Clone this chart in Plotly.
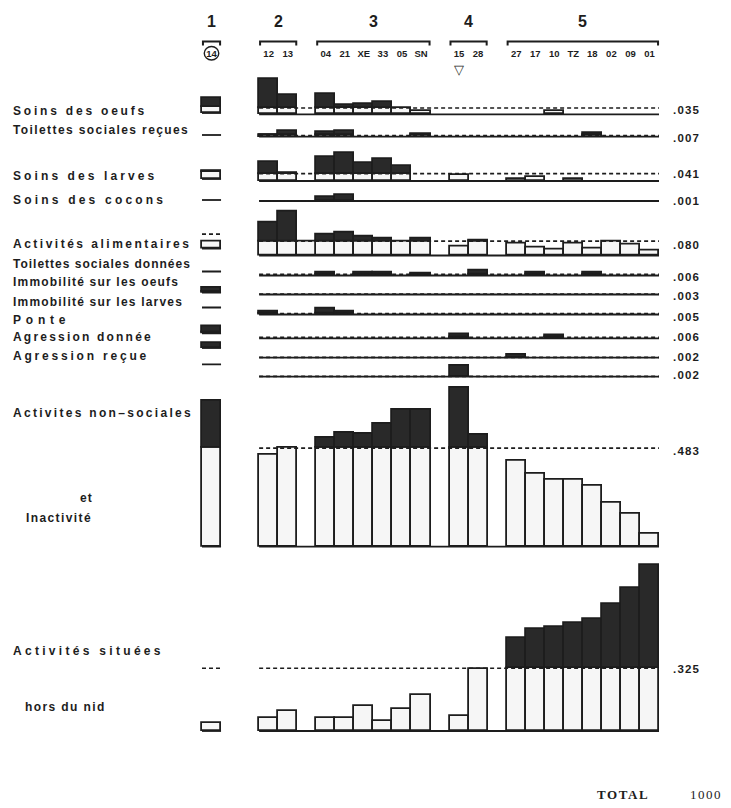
import plotly.graph_objects as go

# ------------------------------------------------------------------ data
group_numbers = ["1", "2", "3", "4", "5"]
group_sizes = [1, 2, 6, 2, 8]
ant_ids = ["14", "12", "13", "04", "21", "XE", "33", "05", "SN",
           "15", "28", "27", "17", "10", "TZ", "18", "02", "09", "01"]

row_labels = ["Soins des oeufs", "Toilettes sociales reçues", "Soins des larves",
              "Soins des cocons", "Activités alimentaires", "Toilettes sociales données",
              "Immobilité sur les oeufs", "Immobilité sur les larves", "Ponte",
              "Agression donnée", "Agression reçue"]
big_labels = ["Activites non–sociales", "et", "Inactivité", "Activités situées", "hors du nid"]

means = [0.035, 0.007, 0.041, 0.001, 0.080, 0.006, 0.003, 0.005, 0.006, 0.002, 0.002, 0.483, 0.325]
mean_labels = [".035", ".007", ".041", ".001", ".080", ".006", ".003", ".005", ".006",
               ".002", ".002", ".483", ".325"]

soins_oeufs = [0.083, 0.196, 0.107, 0.113, 0.052, 0.057, 0.070, 0.034, 0.018,
               0, 0, 0, 0, 0.019, 0, 0, 0, 0, 0]
toilettes_recues = [0, 0.008, 0.033, 0.028, 0.031, 0, 0, 0, 0.017,
                    0, 0, 0, 0, 0, 0, 0.022, 0, 0, 0]
soins_larves = [0.044, 0.107, 0.042, 0.135, 0.157, 0.098, 0.121, 0.083, 0,
                0.035, 0, 0.011, 0.025, 0, 0.011, 0, 0, 0, 0]
soins_cocons = [0, 0, 0, 0.022, 0.036, 0, 0, 0, 0,
                0, 0, 0, 0, 0, 0, 0, 0, 0, 0]
alimentaires = [0.039, 0.182, 0.244, 0.115, 0.126, 0.107, 0.096, 0.078, 0.093,
                0.050, 0.082, 0.065, 0.046, 0.032, 0.065, 0.037, 0.078, 0.059, 0.028]
alimentaires_gap_box = 0.080   # unlabeled box drawn between groups 2 and 3
toilettes_donnees = [0, 0, 0, 0.014, 0, 0.019, 0.019, 0, 0.011,
                     0, 0.028, 0, 0.019, 0, 0, 0.017, 0, 0, 0]
immob_oeufs = [0.030, 0, 0, 0, 0, 0, 0, 0, 0,
               0, 0, 0, 0, 0, 0, 0, 0, 0, 0]
immob_larves = [0, 0.014, 0, 0.033, 0.018, 0, 0, 0, 0,
                0, 0, 0, 0, 0, 0, 0, 0, 0, 0]
ponte = [0.041, 0, 0, 0, 0, 0, 0, 0, 0,
         0.022, 0, 0, 0, 0.018, 0, 0, 0, 0, 0]
agression_donnee = [0.030, 0, 0, 0, 0, 0, 0, 0, 0,
                    0, 0, 0.018, 0, 0, 0, 0, 0, 0, 0]
agression_recue = [0, 0, 0, 0, 0, 0, 0, 0, 0,
                   0.060, 0, 0, 0, 0, 0, 0, 0, 0, 0]
non_sociales = [0.716, 0.450, 0.483, 0.536, 0.561, 0.552, 0.601, 0.674, 0.674,
                0.781, 0.548, 0.422, 0.360, 0.327, 0.327, 0.298, 0.218, 0.164, 0.062]
hors_du_nid = [0.041, 0.066, 0.104, 0.066, 0.066, 0.131, 0.052, 0.114, 0.187,
               0.079, 0.321, 0.480, 0.528, 0.540, 0.558, 0.579, 0.656, 0.742, 0.860]

rows = [soins_oeufs, toilettes_recues, soins_larves, soins_cocons, alimentaires,
        toilettes_donnees, immob_oeufs, immob_larves, ponte, agression_donnee,
        agression_recue, non_sociales, hors_du_nid]

# ------------------------------------------------------------------ layout / style
PAGE_MARGIN = 8                     # default body margin of the html page
W, H = 731 - PAGE_MARGIN, 808 - PAGE_MARGIN
INK = "#1d1d1d"
DARK = "#292929"
LIGHT = "#f6f6f6"
SANS = "Liberation Sans"
LW = 1.8

row_base_px = [114.3, 136.7, 181, 201, 255.5, 275.5, 294.5, 314.5, 338.3, 357.7, 376.7, 546.7, 731]
row_scale = [180] * 11 + [204, 193]          # pixels per unit of proportion
queen_shift = [1.3, 1.7, 2, 1, 7, 4, 1.8, 7, 5, 9.7, 12.4, 0, 0]
queen_mean_rows = [4, 12]
label_y = [111, 130, 175.7, 200, 244, 264, 282, 302, 320, 337, 356]
label_spacing = [2.8, 1.4, 3.1, 3.2, 2.5, 1.0, 1.2, 1.2, 4.8, 2.2, 2.8]
big_label_pos = [(11, 413), (78, 498), (24, 518), (11, 651), (23, 707)]
big_label_spacing = [2.3, 1.0, 1.4, 3.3, 1.4]
value_label_y = [110, 137.7, 174.3, 201, 245, 276.7, 296, 316.7, 336.7, 356.7, 375, 451, 669]


def py(p):
    """screen y pixel -> paper coordinate"""
    return 1 - (p - PAGE_MARGIN) / H


def px(p):
    """screen x pixel -> paper coordinate"""
    return (p - PAGE_MARGIN) / W


# column slots: first group, two empty slots, then one empty slot between groups
slots = []
pos = 0
for gi, n in enumerate(group_sizes):
    slots.extend(range(pos, pos + n))
    pos += n + (2 if gi == 0 else 1)
n_slots = pos - 1
slot_px = (659 - 202) / n_slots
x_pad = 4 / slot_px
gap_slot_23 = slots[2] + 1

fig = go.Figure()
axes = {}
n_rows = len(rows)

for i, vals in enumerate(rows):
    m = means[i]
    k = row_scale[i]
    for kind in ("main", "queen"):
        n = i + 1 if kind == "main" else i + 1 + n_rows
        yname = "y" if n == 1 else f"y{n}"
        base_px = row_base_px[i] - (queen_shift[i] if kind == "queen" else 0)
        top_px = max(base_px - 200, 10)
        pad = 4
        axes["yaxis" if n == 1 else f"yaxis{n}"] = dict(
            domain=[py(base_px + pad), py(top_px)],
            range=[-pad / k, (base_px - top_px) / k],
            visible=False, fixedrange=True)
        if kind == "main":
            xs = list(slots[1:])
            vs = list(vals[1:])
            if vals is alimentaires:
                xs.append(gap_slot_23)
                vs.append(alimentaires_gap_box)
            x_line = [slots[1] - 0.5, slots[-1] + 0.5]
        else:
            xs = [slots[0]]
            vs = vals[:1]
            x_line = [slots[0] - 0.5, slots[0] + 0.5]
        # baseline
        fig.add_trace(go.Scatter(x=x_line, y=[0, 0], mode="lines", xaxis="x", yaxis=yname,
                                 line=dict(color=INK, width=LW), hoverinfo="skip",
                                 showlegend=False))
        # mean line
        if kind == "main" or i in queen_mean_rows:
            fig.add_trace(go.Scatter(x=x_line, y=[m, m], mode="lines", xaxis="x", yaxis=yname,
                                     line=dict(color=INK, width=1.6, dash="4px,3px"),
                                     hoverinfo="skip", showlegend=False))
        white = [min(v, m) if v > 0 else None for v in vs]
        dark = [v - m if v > m else None for v in vs]
        fig.add_trace(go.Bar(x=xs, y=white, base=0, width=1, xaxis="x", yaxis=yname,
                             marker=dict(color=LIGHT, line=dict(color=INK, width=LW)),
                             hoverinfo="skip", showlegend=False))
        fig.add_trace(go.Bar(x=xs, y=dark, base=m, width=1, xaxis="x", yaxis=yname,
                             marker=dict(color=DARK, line=dict(color=INK, width=LW)),
                             hoverinfo="skip", showlegend=False))

annotations = []


def spaced(text, sp):
    return f"<span style='letter-spacing:{sp}px'>{text}</span>"


for i, lab in enumerate(row_labels):
    annotations.append(dict(x=px(11), y=py(label_y[i]), xref="paper", yref="paper",
                            text=spaced(lab, label_spacing[i]), showarrow=False,
                            xanchor="left", yanchor="middle",
                            font=dict(family=SANS, size=12, color=INK, weight="bold")))
for lab, (lx, ly), sp in zip(big_labels, big_label_pos, big_label_spacing):
    annotations.append(dict(x=px(lx), y=py(ly), xref="paper", yref="paper",
                            text=spaced(lab, sp), showarrow=False,
                            xanchor="left", yanchor="middle",
                            font=dict(family=SANS, size=12, color=INK, weight="bold")))
for i, t in enumerate(mean_labels):
    annotations.append(dict(x=px(671), y=py(value_label_y[i]), xref="paper", yref="paper",
                            text=spaced(t, 1.2), showarrow=False,
                            xanchor="left", yanchor="middle",
                            font=dict(family=SANS, size=11.5, color=INK, weight="bold")))

# group numbers and brackets
shapes = []
start = 0
for g, n in zip(group_numbers, group_sizes):
    gs = slots[start:start + n]
    start += n
    cx = (gs[0] + gs[-1]) / 2
    annotations.append(dict(x=cx, y=py(22), xref="x", yref="paper", text=g, showarrow=False,
                            xanchor="center", yanchor="middle",
                            font=dict(family=SANS, size=16, color=INK, weight="bold")))
    x0, x1 = gs[0] - 0.45, gs[-1] + 0.45
    shapes.append(dict(type="path", xref="x", yref="paper",
                       path=f"M {x0},{py(45.5)} L {x0},{py(41.5)} L {x1},{py(41.5)} L {x1},{py(45.5)}",
                       line=dict(color=INK, width=2)))

# marker under ant 15 and ring around the queen id
annotations.append(dict(x=slots[ant_ids.index("15")], y=py(69), xref="x", yref="paper",
                        text="▽", showarrow=False, xanchor="center", yanchor="middle",
                        font=dict(family="DejaVu Sans", size=13, color=INK)))
shapes.append(dict(type="circle", xref="x", yref="paper",
                   x0=slots[0] - 0.38, x1=slots[0] + 0.38, y0=py(60), y1=py(46.5),
                   line=dict(color=INK, width=1.4)))

annotations.append(dict(x=px(595), y=py(794), xref="paper", yref="paper",
                        text=spaced("TOTAL", 1.6), showarrow=False, xanchor="left",
                        yanchor="middle",
                        font=dict(family="Liberation Serif", size=13, color=INK, weight="bold")))
annotations.append(dict(x=px(688), y=py(794), xref="paper", yref="paper",
                        text=spaced("1000", 1.5), showarrow=False, xanchor="left",
                        yanchor="middle",
                        font=dict(family="Liberation Serif", size=13, color=INK)))

fig.update_layout(
    width=W, height=H, margin=dict(l=0, r=0, t=0, b=0),
    paper_bgcolor="white", plot_bgcolor="rgba(0,0,0,0)",
    barmode="overlay", bargap=0, showlegend=False,
    xaxis=dict(domain=[px(202 - 4), px(659 + 4)],
               range=[-0.5 - x_pad, n_slots - 0.5 + x_pad],
               anchor="free", position=py(59), side="top",
               tickmode="array", tickvals=slots, ticktext=ant_ids, ticks="",
               showline=False, showgrid=False, zeroline=False, fixedrange=True,
               tickfont=dict(family=SANS, size=9.5, color=INK, weight="bold")),
    annotations=annotations, shapes=shapes,
    **axes,
)

fig.write_html("out.html", config={"displayModeBar": False})
